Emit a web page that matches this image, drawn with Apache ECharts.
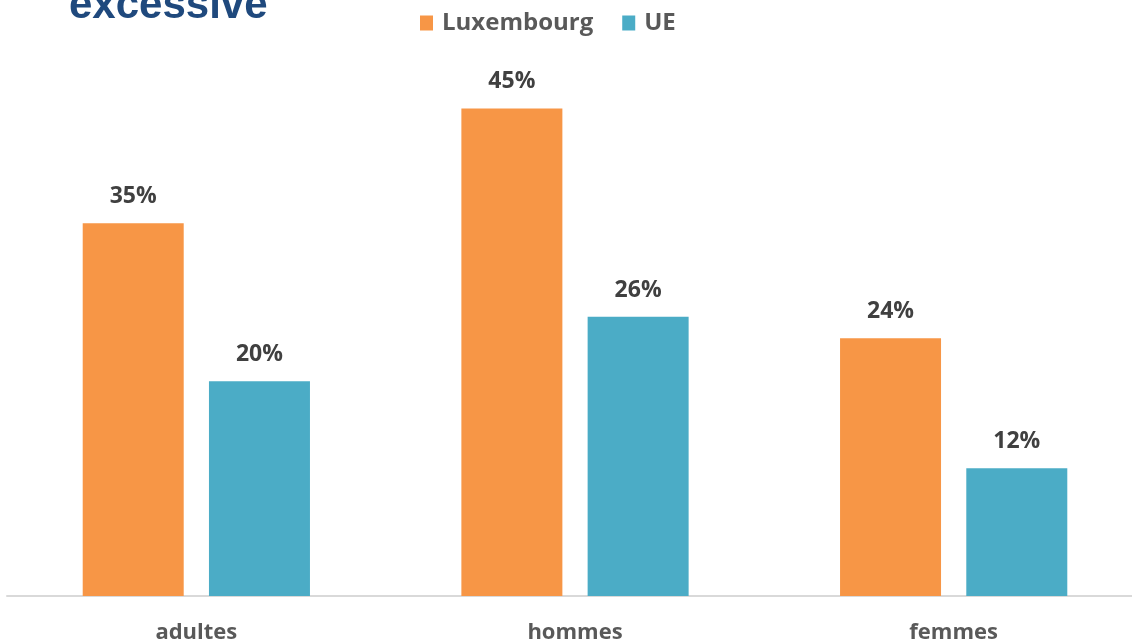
<!DOCTYPE html>
<html>
<head>
<meta charset="utf-8">
<title>excessive</title>
<script src="https://cdn.jsdelivr.net/npm/echarts@6/dist/echarts.min.js"></script>
<style>
  html, body { margin: 0; padding: 0; background: #fff; overflow: hidden; }
  #chart { width: 1150px; height: 644px; }
</style>
</head>
<body>
<div id="chart"></div>
<script>
// données
var categories = ['adultes', 'hommes', 'femmes'];
var valuesLux = [34.7, 45.4, 24.0];
var valuesUE = [20.0, 26.0, 11.9];

var dom = document.getElementById('chart');
var myChart = echarts.init(dom);

var labelStyle = {
    show: true,
    position: 'top',
    distance: 15,
    fontFamily: 'Open Sans',
    fontWeight: 'bold',
    fontSize: 23,
    color: '#404040',
    formatter: function (p) {
        return Math.round(p.value) + '%';
    }
};

var option = {
    title: {
        text: 'excessive',
        left: 64,
        top: -20,
        textStyle: {
            fontFamily: 'Liberation Sans',
            fontWeight: 'bold',
            fontSize: 42,
            color: '#1F497D'
        }
    },
    color: ['#F79646', '#4BACC6'],
    legend: {
        data: ['Luxembourg', 'UE'],
        left: 415,
        top: 6,
        itemWidth: 13,
        itemHeight: 15,
        itemGap: 29,
        icon: 'rect',
        textStyle: {
            fontFamily: 'Open Sans',
            fontWeight: 'bold',
            fontSize: 24,
            color: '#595959',
            padding: [0, 0, 0, 4]
        }
    },
    grid: {
        left: 7,
        top: 59,
        width: 1136,
        height: 540
    },
    xAxis: {
        type: 'category',
        data: categories,
        axisLine: { lineStyle: { color: '#d9d9d9', width: 2 } },
        axisTick: { show: false },
        axisLabel: {
            margin: 26,
            fontFamily: 'Open Sans',
            fontWeight: 'bold',
            fontSize: 22,
            color: '#595959'
        }
    },
    yAxis: {
        type: 'value',
        min: 0,
        max: 50,
        show: false,
        splitLine: { show: false }
    },
    series: [{
            name: 'Luxembourg',
            type: 'bar',
            barWidth: 101,
            barGap: '25%',
            label: labelStyle,
            data: valuesLux
        },
        {
            name: 'UE',
            type: 'bar',
            barWidth: 101,
            label: labelStyle,
            data: valuesUE
        }
    ]
};

myChart.setOption(option);

window.addEventListener('resize', function () {
    myChart.resize();
});
</script>
</body>
</html>
